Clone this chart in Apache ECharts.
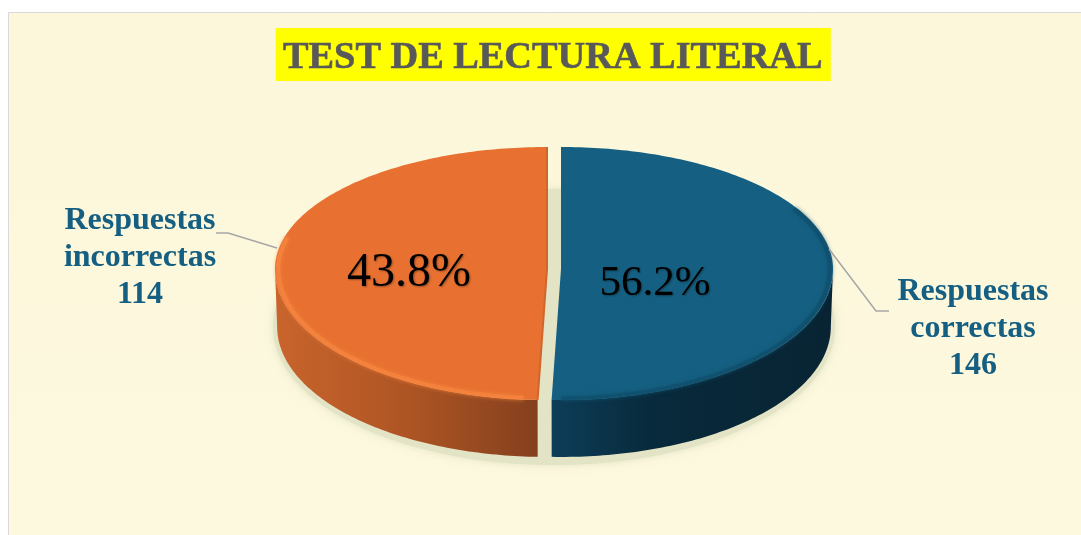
<!DOCTYPE html>
<html>
<head>
<meta charset="utf-8">
<style>html,body{margin:0;padding:0;background:#fff}#c{width:1081px;height:535px}</style>
<script src="https://cdn.jsdelivr.net/npm/echarts@6/dist/echarts.min.js"></script>
</head>
<body>
<div id="c"></div>
<script>
// Printed in the reference's labels
var chartTitle = 'TEST DE LECTURA LITERAL';
var categories = ['Respuestas\ncorrectas', 'Respuestas\nincorrectas'];
var counts = [146, 114];
var percentLabels = ['56.2%', '43.8%'];
// Slice sizes: the reference draws its wedges
// nearly 50/50, which does not agree with its own 56.2 / 43.8 labels.
var drawnShares = [50.55, 49.45];

var FONT = '"Liberation Serif", "Times New Roman", serif';
var pie = { cx: 554, cy: 269, rx: 272, ryTop: 122, ryBottom: 131, depth: 58, explode: 7 };
var look = [
  { top: '#156082', rim: '#10506E', bevelFrom: 60, bevelTo: 180,
    wall: [[0, '#0D3D58'], [0.35, '#082A3C'], [1, '#082433']],
    pct: { x: 655, y: 284, size: 43 }, label: { x: 973, y: 329 },
    leader: [[829, 249], [876, 311], [889, 311]] },
  { top: '#E87131', rim: '#F5853F', bevelFrom: 185, bevelTo: 285,
    wall: [[0, '#C9642C'], [0.5, '#AE5524'], [1, '#84401D']],
    pct: { x: 409, y: 273, size: 48 }, label: { x: 140, y: 258 },
    leader: [[277, 248], [228, 233], [216, 233]] }
];

function proj(deg, k, z, ex) {
  var a = deg * Math.PI / 180, u = Math.sin(a), v = -Math.cos(a);
  var ry = v < 0 ? pie.ryTop : pie.ryBottom;
  return [pie.cx + ex + pie.rx * k * u, pie.cy + z + k * ry * v];
}
function arc(a0, a1, k, z, ex) {
  var pts = [], n = Math.max(2, Math.ceil(Math.abs(a1 - a0)));
  for (var i = 0; i <= n; i++) pts.push(proj(a0 + (a1 - a0) * i / n, k, z, ex));
  return pts;
}
function sliceAngles(i) {
  var total = drawnShares.reduce(function (s, v) { return s + v; }, 0), start = 0;
  for (var j = 0; j < i; j++) start += drawnShares[j] / total * 360;
  return [start, start + drawnShares[i] / total * 360];
}

function renderShadow() {
  var pts = [];
  for (var d = 0; d < 360; d += 2) {
    var a = d * Math.PI / 180, v = -Math.cos(a);
    pts.push([pie.cx + (pie.rx + 9) * Math.sin(a),
              pie.cy + pie.depth + (v < 0 ? pie.ryTop + 16 : pie.ryBottom + 7) * v]);
  }
  return { type: 'polygon', shape: { points: pts },
    style: { fill: '#E3E3C6', shadowColor: '#E3E3C6', shadowBlur: 9 } };
}

function renderSlice(params) {
  var i = params.dataIndex, L = look[i], ang = sliceAngles(i), a0 = ang[0], a1 = ang[1];
  var mid = (a0 + a1) / 2;
  var ex = pie.explode * Math.sin(mid * Math.PI / 180);
  var apex = [pie.cx + ex, pie.cy];
  var kids = [];

  // side wall: only the part of the rim facing the viewer
  var w0 = Math.max(a0, 90), w1 = Math.min(a1, 270);
  if (w1 > w0) {
    var wall = arc(w0, w1, 1, 0, ex).concat(arc(w1, w0, 0.992, pie.depth, ex));
    kids.push({ type: 'polygon', shape: { points: wall },
      style: { fill: new echarts.graphic.LinearGradient(0, 0, 1, 0,
        L.wall.map(function (s) { return { offset: s[0], color: s[1] }; })) } });
  }
  // top face
  kids.push({ type: 'polygon', shape: { points: [apex].concat(arc(a0, a1, 1, 0, ex)) },
    style: { fill: L.top } });
  // bevel along the rim
  kids.push({ type: 'polyline', shape: { points: arc(Math.max(a0, L.bevelFrom), Math.min(a1, L.bevelTo), 0.988, 0, ex) },
    style: { fill: null, stroke: L.rim, lineWidth: 4, opacity: 0.8, shadowColor: L.rim, shadowBlur: 4 } });
  // shaded cut edge on the orange slice, over its whole length
  if (i === 1) {
    kids.push({ type: 'polyline', shape: { points: [proj(a1, 1, 0, ex), apex, proj(a0, 1, 0, ex)] },
      style: { fill: null, stroke: '#CF672D', lineWidth: 2, lineJoin: 'round' } });
  }
  // leader
  kids.push({ type: 'polyline', shape: { points: L.leader },
    style: { fill: null, stroke: '#A6A6A6', lineWidth: 1.5 } });
  // percentage
  kids.push({ type: 'text', style: { text: percentLabels[i], x: L.pct.x, y: L.pct.y,
    fontFamily: FONT, fontSize: L.pct.size, fill: '#000', align: 'center', verticalAlign: 'middle',
    textAlign: 'center', textVerticalAlign: 'middle', textShadowColor: 'rgba(0,0,0,0.35)', textShadowBlur: 2, textShadowOffsetX: 1, textShadowOffsetY: 1 } });
  // outer label
  kids.push({ type: 'text', style: { text: categories[i] + '\n' + counts[i], x: L.label.x, y: L.label.y,
    fontFamily: FONT, fontSize: 32, fontWeight: 'bold', lineHeight: 37, fill: '#156082',
    align: 'center', verticalAlign: 'middle', textAlign: 'center', textVerticalAlign: 'middle' } });
  return { type: 'group', children: kids };
}

var chart = echarts.init(document.getElementById('c'), null, { renderer: 'canvas' });
chart.setOption({
  animation: false,
  backgroundColor: '#ffffff',
  graphic: [{ type: 'rect', z: -10, silent: true,
    shape: { x: 8.5, y: 12.5, width: 1080, height: 530 },
    style: { fill: new echarts.graphic.LinearGradient(0, 0, 0, 1, [
      { offset: 0, color: '#FCF7DA' }, { offset: 1, color: '#FDF9DF' }]), stroke: '#D9D9D9', lineWidth: 1 } }],
  title: {
    text: chartTitle, left: 276, top: 28, padding: [11, 8, 3, 7],
    backgroundColor: '#FFFF00',
    textStyle: { fontFamily: FONT, fontSize: 38.3, fontWeight: 'bold', color: '#595959', lineHeight: 39,
      textBorderColor: '#595959', textBorderWidth: 0.6 }
  },
  series: [
    { type: 'custom', coordinateSystem: 'none', silent: true, z: 1, data: [0], renderItem: renderShadow },
    { type: 'custom', coordinateSystem: 'none', silent: true, z: 2, data: counts, renderItem: renderSlice }
  ]
});
</script>
</body>
</html>
